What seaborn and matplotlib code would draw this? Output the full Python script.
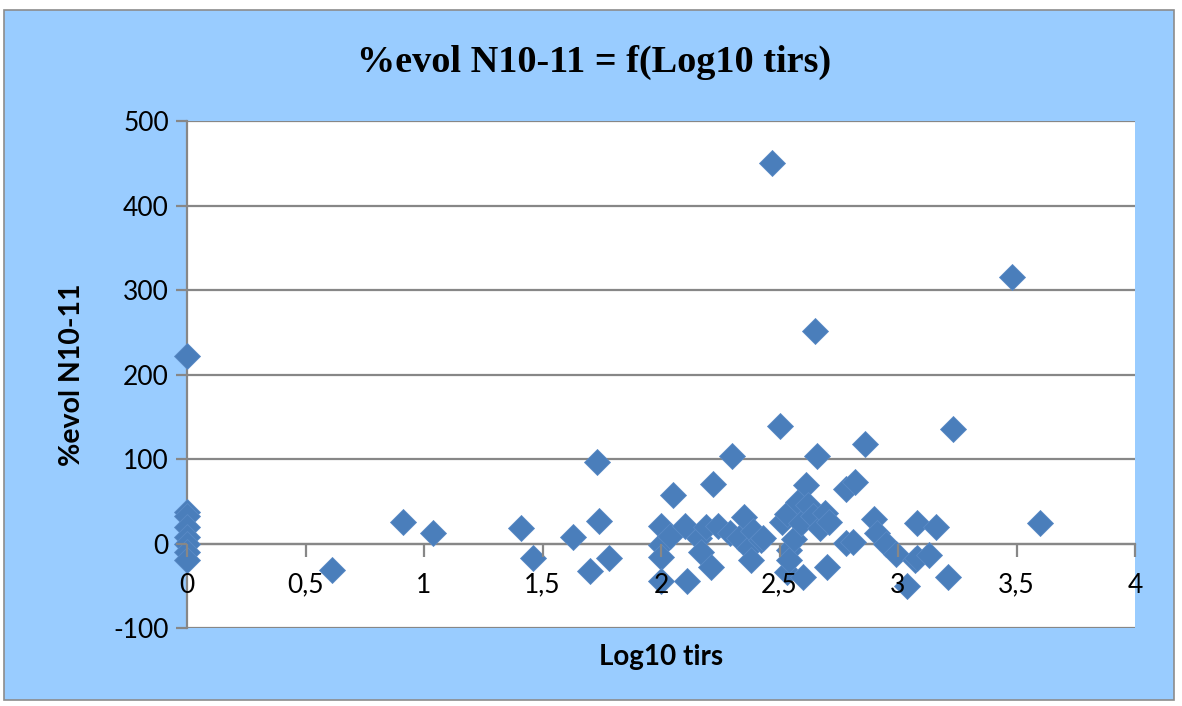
import matplotlib
matplotlib.use("Agg")
import matplotlib.pyplot as plt
import seaborn as sns
import pandas as pd
from matplotlib.patches import Rectangle

log10_tirs = [
    0, 0, 0, 0, 0, 0, 0, 0,
    0.61, 0.91, 1.04, 1.41, 1.46, 1.63, 1.70, 1.73, 1.74, 1.78,
    2.00, 2.00, 2.00, 2.00, 2.04, 2.05, 2.10, 2.11, 2.16, 2.17,
    2.19, 2.21, 2.22, 2.24, 2.29, 2.30, 2.33, 2.35, 2.37, 2.38,
    2.39, 2.42, 2.43, 2.47, 2.50, 2.51, 2.53, 2.53, 2.54, 2.54,
    2.56, 2.58, 2.59, 2.60, 2.61, 2.62, 2.64, 2.65, 2.66, 2.67,
    2.69, 2.70, 2.71, 2.78, 2.78, 2.81, 2.82, 2.86, 2.90, 2.91,
    2.95, 2.99, 3.04, 3.07, 3.08, 3.08, 3.13, 3.16, 3.21, 3.23,
    3.48, 3.60,
]
evol_pct = [
    222, 37, 33, 20, 8, 0, -10, -20,
    -31, 26, 12, 18, -17, 8, -33, 96, 27, -17,
    21, -2, -16, -44, 9, 57, 21, -44, 7, -10,
    19, -28, 71, 21, 12, 104, 7, 31, -5, -20,
    15, 4, 7, 450, 139, 25, 35, -34, -8, -20,
    5, 49, 24, -40, 69, 45, 33, 251, 104, 18,
    36, -28, 25, 65, 1, 2, 73, 118, 29, 12,
    0, -12, -50, -20, 24, -17, -14, 19, -40, 135,
    315, 24,
]
x_ticks = [0, 0.5, 1, 1.5, 2, 2.5, 3, 3.5, 4]
x_tick_labels = ["0", "0,5", "1", "1,5", "2", "2,5", "3", "3,5", "4"]
y_ticks = [-100, 0, 100, 200, 300, 400, 500]
y_tick_labels = ["-100", "0", "100", "200", "300", "400", "500"]

df = pd.DataFrame({"x": log10_tirs, "y": evol_pct})

W, H = 1182, 706
fig = plt.figure(figsize=(W / 100, H / 100), dpi=100, facecolor="white")
fig.patches.append(Rectangle((4 / W, 1 - 700 / H), 1170 / W, 690 / H,
                             transform=fig.transFigure, facecolor="#99CCFF",
                             edgecolor="#8C8C8C", linewidth=1.2, zorder=-10))

ax = fig.add_axes([187 / W, 1 - 628 / H, (1135 - 187) / W, (628 - 121) / H])
ax.set_facecolor("white")
ax.set_axisbelow(False)

sns.scatterplot(data=df, x="x", y="y", marker="D", s=175, color="#4A7EBB",
                edgecolor="#5A8AC6", linewidth=0.6, ax=ax, clip_on=False, zorder=2)

ax.set_xlim(0, 4)
ax.set_ylim(-100, 500)
ax.set_yticks(y_ticks)
ax.set_yticklabels(y_tick_labels)
ax.set_xticks(x_ticks)
ax.set_xticklabels(x_tick_labels)

grid_c = "#878787"
for yv in y_ticks:
    ax.axhline(yv, color=grid_c, linewidth=1.6, zorder=1)

for side in ["top", "right"]:
    ax.spines[side].set_visible(False)
ax.spines["left"].set_color(grid_c)
ax.spines["left"].set_linewidth(1.6)
ax.spines["left"].set_zorder(1.5)
ax.spines["bottom"].set_position(("data", 0))
ax.spines["bottom"].set_color(grid_c)
ax.spines["bottom"].set_linewidth(1.6)
ax.spines["bottom"].set_zorder(1.5)

tick_font = "Lato"
ax.tick_params(axis="y", direction="out", length=8, width=1.6, color=grid_c,
               labelsize=19, pad=5)
ax.tick_params(axis="x", direction="out", length=9, width=1.6, color=grid_c,
               labelsize=19, pad=12)
for lab in ax.get_xticklabels() + ax.get_yticklabels():
    lab.set_fontfamily(tick_font)

ax.set_xlabel("")
ax.set_ylabel("")
fig.text(661 / W, 1 - 657 / H, "Log10 tirs", ha="center", va="center",
         fontsize=20, fontweight="bold", fontfamily=tick_font)
fig.text(72 / W, 1 - 375 / H, "%evol N10-11", ha="center", va="center",
         rotation=90, fontsize=20.5, fontweight="bold", fontfamily=tick_font)
fig.text(594 / W, 1 - 62 / H, "%evol N10-11 = f(Log10 tirs)", ha="center",
         va="center", fontsize=27.5, fontweight="bold",
         fontfamily="Liberation Serif")

fig.savefig("out.png", dpi=100, facecolor="white")
